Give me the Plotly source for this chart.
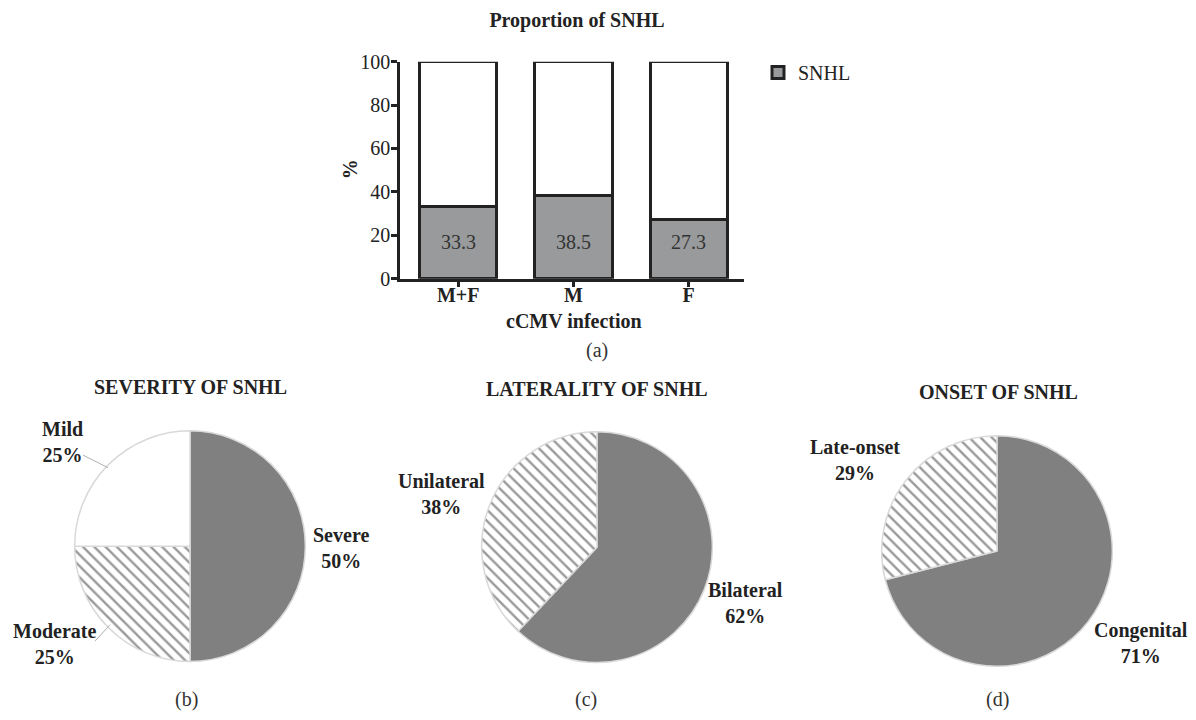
import plotly.graph_objects as go

# ---------------- data ----------------
groups = ["M+F", "M", "F"]
snhl_pct = [33.3, 38.5, 27.3]
bar_label_level = 17

severity_labels = ["Severe", "Moderate", "Mild"]
severity_values = [50, 25, 25]
laterality_labels = ["Bilateral", "Unilateral"]
laterality_values = [62, 38]
onset_labels = ["Congenital", "Late-onset"]
onset_values = [71, 29]

# the page body adds an 8px margin, so the figure is 8px smaller each way
OFF = 8
W, H = 1196 - OFF, 720 - OFF
SERIF = "Liberation Serif, Times New Roman, serif"
DARK = "#222222"
BAR_GREY = "#999a9c"
PIE_GREY = "#808080"
HATCH = "#9a9a9a"


def px(x):
    """window pixel x -> paper fraction"""
    return (x - OFF) / W


def py(y):
    """window pixel y (from top) -> paper fraction"""
    return 1 - (y - OFF) / H


def note(text, x, y, size=20, color=DARK, **kw):
    return dict(x=px(x), y=py(y), xref="paper", yref="paper", text=text,
                showarrow=False, xanchor="center", yanchor="middle",
                font=dict(family=SERIF, size=size, color=color), **kw)


fig = go.Figure()

# ---------------- (a) stacked bar chart ----------------
fig.add_trace(go.Bar(
    x=groups, y=snhl_pct, name="SNHL", width=0.67,
    marker=dict(color=BAR_GREY, line=dict(color=DARK, width=3)),
    xaxis="x", yaxis="y", showlegend=True, hoverinfo="skip",
))
fig.add_trace(go.Bar(
    x=groups, y=[100 - v for v in snhl_pct], name="No SNHL", width=0.67,
    marker=dict(color="white", line=dict(color=DARK, width=3)),
    xaxis="x", yaxis="y", showlegend=False, hoverinfo="skip",
))

annotations = []
for g, v in zip(groups, snhl_pct):
    annotations.append(dict(
        x=g, y=bar_label_level, xref="x", yref="y", text=f"{v:.1f}",
        showarrow=False, xanchor="center", yanchor="middle",
        font=dict(family=SERIF, size=20, color="#333333"),
    ))

annotations += [
    note("<b>%</b>", 350, 163, textangle=-90),
    note("<b>cCMV infection</b>", 574, 320),
    note("(a)", 597, 350, color="#333333"),
]

# ---------------- pies ----------------
R = 119


def pie_domain(cx, cy):
    return dict(x=[px(cx - R), px(cx + R)], y=[py(cy + R), py(cy - R)])


def add_pie(labels, values, patterns, colors, cx, cy):
    fig.add_trace(go.Pie(
        labels=labels, values=values, sort=False, direction="clockwise",
        rotation=0, textinfo="none", showlegend=False, hoverinfo="label+percent",
        domain=pie_domain(cx, cy),
        marker=dict(colors=colors, line=dict(color="#d9d9d9", width=1.5),
                    pattern=dict(shape=patterns, fgcolor=HATCH, bgcolor="white",
                                 size=8, solidity=0.3)),
    ))


add_pie(severity_labels, severity_values, ["", "\\", ""],
        [PIE_GREY, "white", "white"], 190, 552)
add_pie(laterality_labels, laterality_values, ["", "\\"],
        [PIE_GREY, "white"], 597, 553)
add_pie(onset_labels, onset_values, ["", "\\"],
        [PIE_GREY, "white"], 997, 557)

# pie titles
for t, x, y in [("SEVERITY OF SNHL", 190, 388),
                ("LATERALITY OF SNHL", 597, 390),
                ("ONSET OF SNHL", 999, 393)]:
    annotations.append(note(f"<b>{t}</b>", x, y))

# pie captions
for t, x in [("(b)", 186), ("(c)", 586), ("(d)", 997)]:
    annotations.append(note(t, x, 710, color="#333333"))

# pie slice labels (label + percent from data)
label_pos = {
    "Severe": (341, 554), "Moderate": (54, 653), "Mild": (62, 445),
    "Bilateral": (745, 611), "Unilateral": (441, 498),
    "Congenital": (1141, 652), "Late-onset": (855, 463),
}
for labs, vals in [(severity_labels, severity_values),
                   (laterality_labels, laterality_values),
                   (onset_labels, onset_values)]:
    tot = sum(vals)
    for lab, v in zip(labs, vals):
        x, y = label_pos[lab]
        annotations.append(note(f"<b>{lab}<br>{round(100 * v / tot)}%</b>", x, y,
                                align="center"))

shapes = [
    dict(type="line", xref="paper", yref="paper", x0=px(83), y0=py(458), x1=px(108), y1=py(471),
         line=dict(color="#b0b0b0", width=1)),
    dict(type="line", xref="paper", yref="paper", x0=px(95), y0=py(650), x1=px(110), y1=py(633),
         line=dict(color="#b0b0b0", width=1)),
]

axis_common = dict(showline=True, linecolor=DARK, linewidth=2.5,
                   ticks="outside", ticklen=6, tickwidth=2.5, tickcolor=DARK,
                   showgrid=False, zeroline=False, fixedrange=True,
                   tickfont=dict(family=SERIF, size=20, color=DARK),
                   tickprefix="<b>", ticksuffix="</b>")

fig.update_layout(
    width=W, height=H, margin=dict(l=0, r=0, t=0, b=0),
    paper_bgcolor="white", plot_bgcolor="white",
    barmode="stack",
    font=dict(family=SERIF, size=20, color=DARK),
    title=dict(text="<b>Proportion of SNHL</b>", x=px(577), y=py(20),
               xanchor="center", yanchor="middle",
               font=dict(family=SERIF, size=20, color=DARK)),
    xaxis=dict(domain=[px(400), px(744)], range=[-0.505, 2.48],
               ticklabelstandoff=-9, **axis_common),
    yaxis=dict(domain=[py(276), py(52)], range=[0, 100],
               tickvals=[0, 20, 40, 60, 80, 100], ticklabelstandoff=-3, **axis_common),
    legend=dict(x=px(758), y=py(43), xanchor="left", yanchor="top",
                font=dict(family=SERIF, size=20, color=DARK),
                bgcolor="rgba(0,0,0,0)", itemwidth=30),
    annotations=annotations, shapes=shapes,
)

fig.write_html("out.html")
